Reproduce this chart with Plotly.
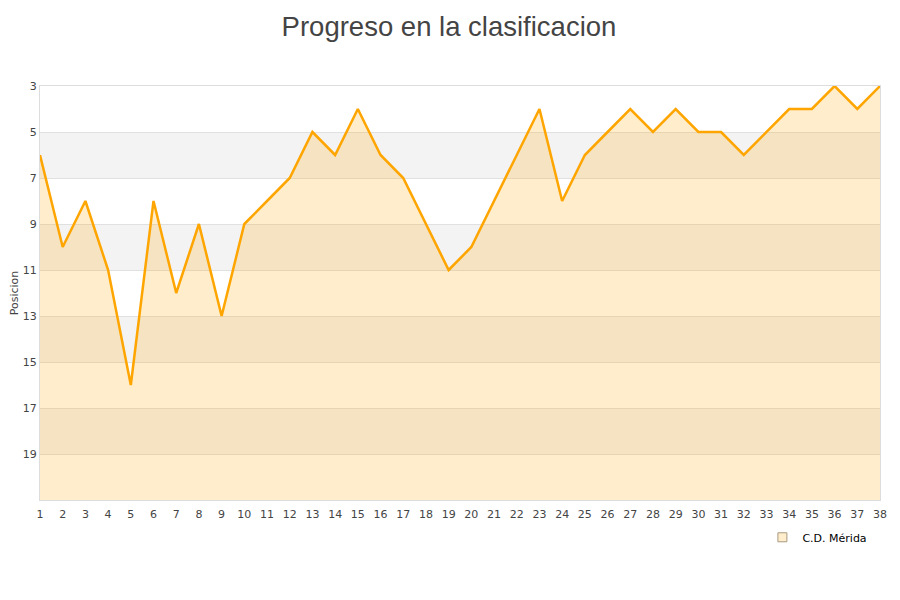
import plotly.graph_objects as go

jornadas = list(range(1, 39))
posiciones = [6, 10, 8, 11, 16, 8, 12, 9, 13, 9, 8, 7, 5, 6, 4, 6, 7, 9, 11, 10,
              8, 6, 4, 8, 6, 5, 4, 5, 4, 5, 5, 6, 5, 4, 4, 3, 4, 3]
team = "C.D. Mérida"
y_ticks = [3, 5, 7, 9, 11, 13, 15, 17, 19]
bands = [(5, 7), (9, 11), (13, 15), (17, 19)]

fig = go.Figure()
# baseline for fill
fig.add_trace(go.Scatter(x=jornadas, y=[21] * len(jornadas), mode="lines",
                         line=dict(width=0), showlegend=False, hoverinfo="skip"))
fig.add_trace(go.Scatter(x=jornadas, y=posiciones, mode="lines", name=team,
                         line=dict(color="#FFA500", width=2.5), showlegend=False,
                         fill="tonexty", fillcolor="rgba(255,165,0,0.2)"))
# legend entry (square swatch)
fig.add_trace(go.Scatter(x=[None], y=[None], mode="markers", name=team,
                         marker=dict(symbol="square", size=9, color="#FFEDCC",
                                     line=dict(color="#A89A80", width=1))))

for y0, y1 in bands:
    fig.add_shape(type="rect", xref="paper", x0=0, x1=1, y0=y0, y1=y1,
                  fillcolor="#F3F3F3", line=dict(width=0), layer="below")

fig.update_layout(
    width=900, height=600,
    paper_bgcolor="white", plot_bgcolor="white",
    margin=dict(l=32, r=28, t=78, b=108),
    title=dict(text="Progreso en la clasificacion", x=0.49, xanchor="center",
               y=0.985, yanchor="top", pad=dict(t=0, b=0),
               font=dict(family="Liberation Sans, Arial", size=27.5, color="#444")),
    font=dict(family="DejaVu Sans, sans-serif", size=11, color="#444"),
    showlegend=True,
    legend=dict(orientation="h", x=0.860, xanchor="left", y=-0.055, yanchor="top",
                font=dict(size=11, color="#000"), bgcolor="rgba(0,0,0,0)",
                itemwidth=30),
    xaxis=dict(range=[1, 38], tickvals=jornadas, ticktext=[str(j) for j in jornadas],
               showgrid=False, zeroline=False, showline=True, linecolor="#DDDDDD",
               mirror=True, ticks="outside", ticklen=4, tickcolor="rgba(0,0,0,0)",
               tickfont=dict(size=11, color="#444")),
    yaxis=dict(range=[21, 3], tickvals=y_ticks, showgrid=True, gridcolor="#E0E0E0",
               zeroline=False, showline=True, linecolor="#DDDDDD", mirror=True,
               ticks="", automargin=False,
               title=dict(text="Posicion", font=dict(size=11, color="#444"), standoff=2),
               tickfont=dict(size=11, color="#444")),
)

fig.write_html("out.html")
